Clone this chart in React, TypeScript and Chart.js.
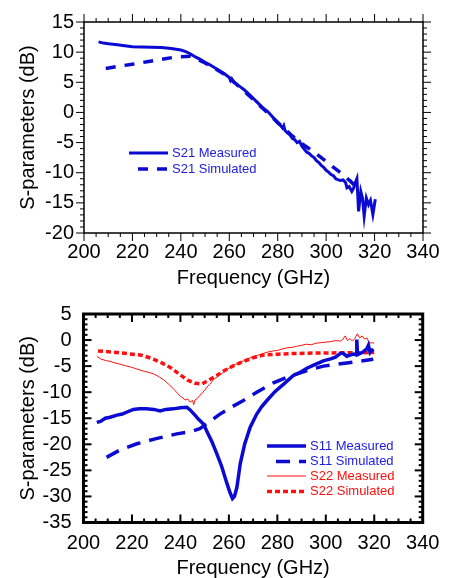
import React, { useEffect, useRef } from "react";
import { Chart, registerables } from "chart.js";

Chart.register(...registerables);
Chart.defaults.font.family = "'Liberation Sans', Arial, sans-serif";
Chart.defaults.color = "#000";

// ---------- Top chart: S21 ----------
const s21MeasFreq = [206, 208, 210, 213, 216, 220, 224, 228, 232, 236, 240, 242, 243, 244, 246, 248, 250, 252, 254, 256, 258, 260, 260.5, 261, 262, 264, 266, 268, 270, 272, 274, 276, 278, 280, 281, 282, 282.5, 283, 284, 285, 286, 287, 288, 289, 290, 291, 292, 293, 294, 295, 296, 297, 298, 299, 300, 301, 302, 303, 304, 305, 306, 307, 308, 308.6, 309.5, 310.6, 311.3, 312, 312.7, 313.4, 314.3, 315, 315.7, 316.6, 317.5, 318.3, 319.3, 320.3];
const s21MeasVal = [11.7, 11.5, 11.4, 11.25, 11.1, 10.9, 10.85, 10.8, 10.75, 10.6, 10.35, 10.1, 9.9, 9.7, 9.2, 8.8, 8.3, 7.9, 7.4, 6.9, 6.4, 5.8, 5.3, 5.6, 5.0, 4.4, 3.8, 3.1, 2.3, 1.5, 0.7, 0.1, -0.8, -1.8, -2.1, -2.6, -2.2, -3.0, -3.4, -3.7, -4.3, -4.5, -5.0, -4.8, -5.6, -6.1, -6.6, -6.8, -7.2, -7.5, -8.0, -8.3, -8.8, -9.1, -9.6, -9.9, -10.3, -10.5, -11.0, -11.2, -11.3, -11.2, -11.6, -12.5, -12.3, -13.1, -12.6, -11.7, -11.0, -16.4, -13.1, -14.2, -17.2, -14.2, -15.3, -14.6, -16.9, -14.4];

const s21SimFreq = [209, 215, 220, 226, 232, 238, 244, 246, 248, 250, 254, 258, 262, 266, 270, 274, 278, 282, 286, 290, 294, 298, 302, 306, 310, 312];
const s21SimVal = [7.3, 7.7, 8.0, 8.4, 8.8, 9.2, 9.3, 9.0, 8.6, 8.2, 7.3, 6.3, 5.0, 3.6, 2.1, 0.6, -0.9, -2.4, -3.9, -5.2, -6.3, -7.5, -8.8, -10.0, -11.4, -12.2];

const topXTicks = { min: 200, max: 340, step: 20, minor: 5 };
const topYTicks = { min: -20, max: 15, step: 5, minor: 1 };

// ---------- Bottom chart: S11 / S22 ----------
const s11MeasFreq = [205.5, 207, 209, 211, 213.8, 216, 218, 220.6, 223, 226, 229, 231.6, 234, 237, 240, 242.7, 244, 246, 247.5, 249.5, 251, 253, 255, 257, 259.2, 260.5, 261.5, 262.3, 263.3, 264.7, 266.5, 268.8, 271.5, 273.5, 275.7, 279, 282.5, 286.6, 289, 292.2, 295, 299, 302, 304, 305.9, 307, 308.7, 310, 311.5, 312.6, 312.8, 313.1, 315, 316.9, 317.6, 318.3, 319.6];
const s11MeasVal = [-15.8, -15.6, -15.0, -14.8, -14.4, -14.2, -13.8, -13.3, -13.2, -13.2, -13.3, -13.6, -13.3, -13.2, -13.0, -12.9, -13.4, -14.4, -15.2, -16.1, -17.6, -19.5, -21.8, -24.2, -27.5, -29.3, -30.4, -30.0, -28.3, -23.7, -20.0, -16.7, -14.2, -12.8, -11.6, -9.9, -8.5, -6.8, -6.3, -5.4, -4.8, -4.0, -3.6, -3.3, -2.6, -2.5, -3.1, -2.9, -2.7, -2.8, 0.1, -2.8, -2.4, -1.7, -1.0, -2.4, -1.7];

const s11SimFreq = [209.5, 215, 222, 230, 238.5, 244, 248, 252, 256, 260.5, 266, 271.5, 278.4, 285.3, 292, 299, 308.7, 319.6];
const s11SimVal = [-22.5, -21.1, -19.9, -18.9, -18.0, -17.6, -17.0, -15.7, -14.3, -13.0, -11.6, -10.0, -8.2, -6.9, -5.9, -5.0, -4.4, -3.7];

const s22MeasFreq = [205.5, 207, 209, 211, 213, 215, 217, 219, 221, 223, 225, 227, 229, 231, 233, 235, 237, 239, 240, 241, 242, 243, 244, 245, 245.5, 246, 247, 248, 249, 250, 251, 252, 253, 254, 255, 256, 257, 258, 260, 262, 264, 266, 268, 270, 272, 274, 276, 278, 280, 282, 284, 286, 288, 290, 292, 294, 296, 298, 300, 302, 304, 306, 307, 308, 309, 310, 311, 312, 313, 314, 315, 316, 317, 318, 319, 320];
const s22MeasVal = [-3.1, -3.6, -3.9, -4.1, -4.4, -4.6, -4.9, -5.1, -5.4, -5.7, -6.0, -6.2, -6.5, -7.0, -7.6, -8.4, -9.3, -10.3, -10.8, -11.1, -11.5, -11.3, -11.9, -11.6, -12.4, -11.5, -11.2, -10.6, -10.2, -9.6, -9.0, -8.5, -8.0, -7.4, -7.2, -6.7, -6.5, -6.0, -5.4, -4.8, -4.4, -4.0, -3.6, -3.2, -2.9, -2.6, -2.3, -2.1, -2.0, -1.7, -1.5, -1.4, -1.2, -1.0, -0.8, -0.9, -0.6, -0.5, -0.4, -0.3, -0.1, -0.2, 0.1, 0.8, -0.1, 0.3, -0.2, 0.3, 1.2, 0.4, 0.8, 0.2, 0.4, -0.6, -0.5, -0.6];

const s22SimFreq = [206, 212, 218, 224, 228, 232, 236, 240, 243, 246, 249, 252, 255, 258, 262, 266, 270, 274, 280, 286, 295, 305, 320];
const s22SimVal = [-2.1, -2.3, -2.6, -2.9, -3.5, -4.3, -5.3, -6.7, -7.7, -8.3, -8.4, -7.6, -6.8, -5.9, -4.9, -4.1, -3.4, -2.9, -2.7, -2.6, -2.5, -2.45, -2.4];

const botXTicks = { min: 200, max: 340, step: 20, minor: 5 };
const botYTicks = { min: -35, max: 5, step: 5, minor: 1 };

const xTitle = "Frequency (GHz)";
const yTitle = "S-parameters (dB)";

const BLUE = "#0a0ad2";
const BLUE_TEXT = "#2020e0";
const RED = "#ff1010";

const pts = (f: number[], v: number[]) => f.map((x, i) => ({ x, y: v[i] }));

type LegendItem = { label: string; color: string; textColor: string; width: number; dash: number[]; x0: number; x1: number; y: number; tx: number };

function framePlugin(o: { frame: number; tickW: number; inside: boolean; xt: any; yt: any; legend: LegendItem[] }) {
  return {
    id: "frame",
    afterDraw(chart: any) {
      const { ctx, chartArea: a, scales } = chart;
      const xs = scales.x, ys = scales.y;
      ctx.save();
      ctx.strokeStyle = "#000";
      ctx.lineWidth = o.tickW;
      const d = o.inside ? -1 : 1;
      const seg = (x1: number, y1: number, x2: number, y2: number) => {
        ctx.beginPath();
        ctx.moveTo(x1, y1);
        ctx.lineTo(x2, y2);
        ctx.stroke();
      };
      for (let v = o.xt.min; v <= o.xt.max + 1e-9; v += o.xt.minor) {
        const p = xs.getPixelForValue(v);
        const major = Math.abs((v - o.xt.min) % o.xt.step) < 1e-6;
        const L = major ? 8 : 4;
        seg(p, a.bottom, p, a.bottom + d * L);
        seg(p, a.top, p, a.top - d * L);
      }
      for (let v = o.yt.min; v <= o.yt.max + 1e-9; v += o.yt.minor) {
        const p = ys.getPixelForValue(v);
        const major = Math.abs((v - o.yt.min) % o.yt.step) < 1e-6;
        const L = major ? 8 : 4;
        seg(a.left, p, a.left - d * L, p);
        seg(a.right, p, a.right + d * L, p);
      }
      ctx.lineWidth = o.frame;
      ctx.strokeRect(a.left, a.top, a.right - a.left, a.bottom - a.top);
      // legend
      ctx.font = "13px 'Liberation Sans', Arial, sans-serif";
      ctx.textBaseline = "middle";
      ctx.textAlign = "left";
      for (const it of o.legend) {
        ctx.strokeStyle = it.color;
        ctx.lineWidth = it.width;
        ctx.setLineDash(it.dash);
        ctx.lineCap = "butt";
        seg(it.x0, it.y, it.x1, it.y);
        ctx.setLineDash([]);
        ctx.fillStyle = it.textColor;
        ctx.fillText(it.label, it.tx, it.y);
      }
      ctx.restore();
    },
  };
}

function makeConfig(p: {
  datasets: any[];
  xt: any;
  yt: any;
  yWidth: number;
  xHeight: number;
  padTop: number;
  padRight: number;
  yPad: number;
  xPad: number;
  xTitlePad: number;
  yTitlePad: number;
  plugin: any;
}) {
  return {
    type: "line" as const,
    data: { datasets: p.datasets },
    options: {
      responsive: false,
      maintainAspectRatio: false,
      animation: false as const,
      devicePixelRatio: 1,
      layout: { padding: { top: p.padTop, right: p.padRight, left: 0, bottom: 0 } },
      plugins: { legend: { display: false }, tooltip: { enabled: false } },
      elements: { point: { radius: 0 }, line: { tension: 0 } },
      scales: {
        x: {
          type: "linear" as const,
          min: p.xt.min,
          max: p.xt.max,
          grid: { display: false, drawTicks: false, tickLength: 0 },
          border: { display: false },
          ticks: { stepSize: p.xt.step, padding: p.xPad, font: { size: 20 }, color: "#000", maxRotation: 0, autoSkip: false },
          title: { display: true, text: xTitle, font: { size: 20 }, color: "#000", padding: { top: 0, bottom: p.xTitlePad } },
          afterFit: (s: any) => {
            s.height = p.xHeight;
          },
        },
        y: {
          type: "linear" as const,
          min: p.yt.min,
          max: p.yt.max,
          grid: { display: false, drawTicks: false, tickLength: 0 },
          border: { display: false },
          ticks: { stepSize: p.yt.step, padding: p.yPad, font: { size: 20 }, color: "#000", autoSkip: false },
          title: { display: true, text: yTitle, font: { size: 20 }, color: "#000", padding: { top: p.yTitlePad, bottom: 0 } },
          afterFit: (s: any) => {
            s.width = p.yWidth;
          },
        },
      },
    },
    plugins: [p.plugin],
  };
}

function topConfig() {
  return makeConfig({
    datasets: [
      { label: "S21 Measured", data: pts(s21MeasFreq, s21MeasVal), borderColor: BLUE, borderWidth: 3, fill: false },
      { label: "S21 Simulated", data: pts(s21SimFreq, s21SimVal), borderColor: BLUE, borderWidth: 3.5, borderDash: [10, 9], fill: false },
    ],
    xt: topXTicks,
    yt: topYTicks,
    yWidth: 84,
    xHeight: 57,
    padTop: 19,
    padRight: 38,
    yPad: 10,
    xPad: 7,
    xTitlePad: 0,
    yTitlePad: 16,
    plugin: framePlugin({
      frame: 1.5,
      tickW: 1,
      inside: false,
      xt: topXTicks,
      yt: topYTicks,
      legend: [
        { label: "S21 Measured", color: BLUE, textColor: BLUE_TEXT, width: 3, dash: [], x0: 129, x1: 168, y: 153, tx: 172 },
        { label: "S21 Simulated", color: BLUE, textColor: BLUE_TEXT, width: 3.5, dash: [10, 9], x0: 138, x1: 168, y: 169, tx: 172 },
      ],
    }),
  });
}

function bottomConfig() {
  return makeConfig({
    datasets: [
      { label: "S11 Measured", data: pts(s11MeasFreq, s11MeasVal), borderColor: BLUE, borderWidth: 3.5, fill: false },
      { label: "S11 Simulated", data: pts(s11SimFreq, s11SimVal), borderColor: BLUE, borderWidth: 3.5, borderDash: [14, 9], fill: false },
      { label: "S22 Measured", data: pts(s22MeasFreq, s22MeasVal), borderColor: RED, borderWidth: 1, fill: false },
      { label: "S22 Simulated", data: pts(s22SimFreq, s22SimVal), borderColor: RED, borderWidth: 3.5, borderDash: [5, 3], fill: false },
    ],
    xt: botXTicks,
    yt: botYTicks,
    yWidth: 83.5,
    xHeight: 55.5,
    padTop: 22.7,
    padRight: 38.3,
    yPad: 12,
    xPad: 9,
    xTitlePad: -2,
    yTitlePad: 16,
    plugin: framePlugin({
      frame: 3,
      tickW: 2,
      inside: true,
      xt: botXTicks,
      yt: botYTicks,
      legend: [
        { label: "S11 Measured", color: BLUE, textColor: BLUE_TEXT, width: 3.5, dash: [], x0: 267, x1: 306, y: 156, tx: 310 },
        { label: "S11 Simulated", color: BLUE, textColor: BLUE_TEXT, width: 3.5, dash: [14, 9], x0: 276, x1: 306, y: 171.5, tx: 310 },
        { label: "S22 Measured", color: RED, textColor: RED, width: 1, dash: [], x0: 267, x1: 306, y: 186, tx: 310 },
        { label: "S22 Simulated", color: RED, textColor: RED, width: 3.5, dash: [5, 3], x0: 267, x1: 306, y: 201.5, tx: 310 },
      ],
    }),
  });
}

function ChartCanvas({ make, width, height, top }: { make: () => any; width: number; height: number; top: number }) {
  const ref = useRef<HTMLCanvasElement>(null);
  useEffect(() => {
    const chart = new Chart(ref.current as HTMLCanvasElement, make());
    return () => chart.destroy();
  }, []);
  return <canvas ref={ref} width={width} height={height} style={{ position: "absolute", left: 0, top, width, height }} />;
}

export default function App() {
  return (
    <div style={{ position: "absolute", left: 0, top: 0, width: 461, height: 578, background: "#fff" }}>
      <ChartCanvas make={topConfig} width={461} height={290} top={0} />
      <ChartCanvas make={bottomConfig} width={461} height={288} top={290} />
    </div>
  );
}
